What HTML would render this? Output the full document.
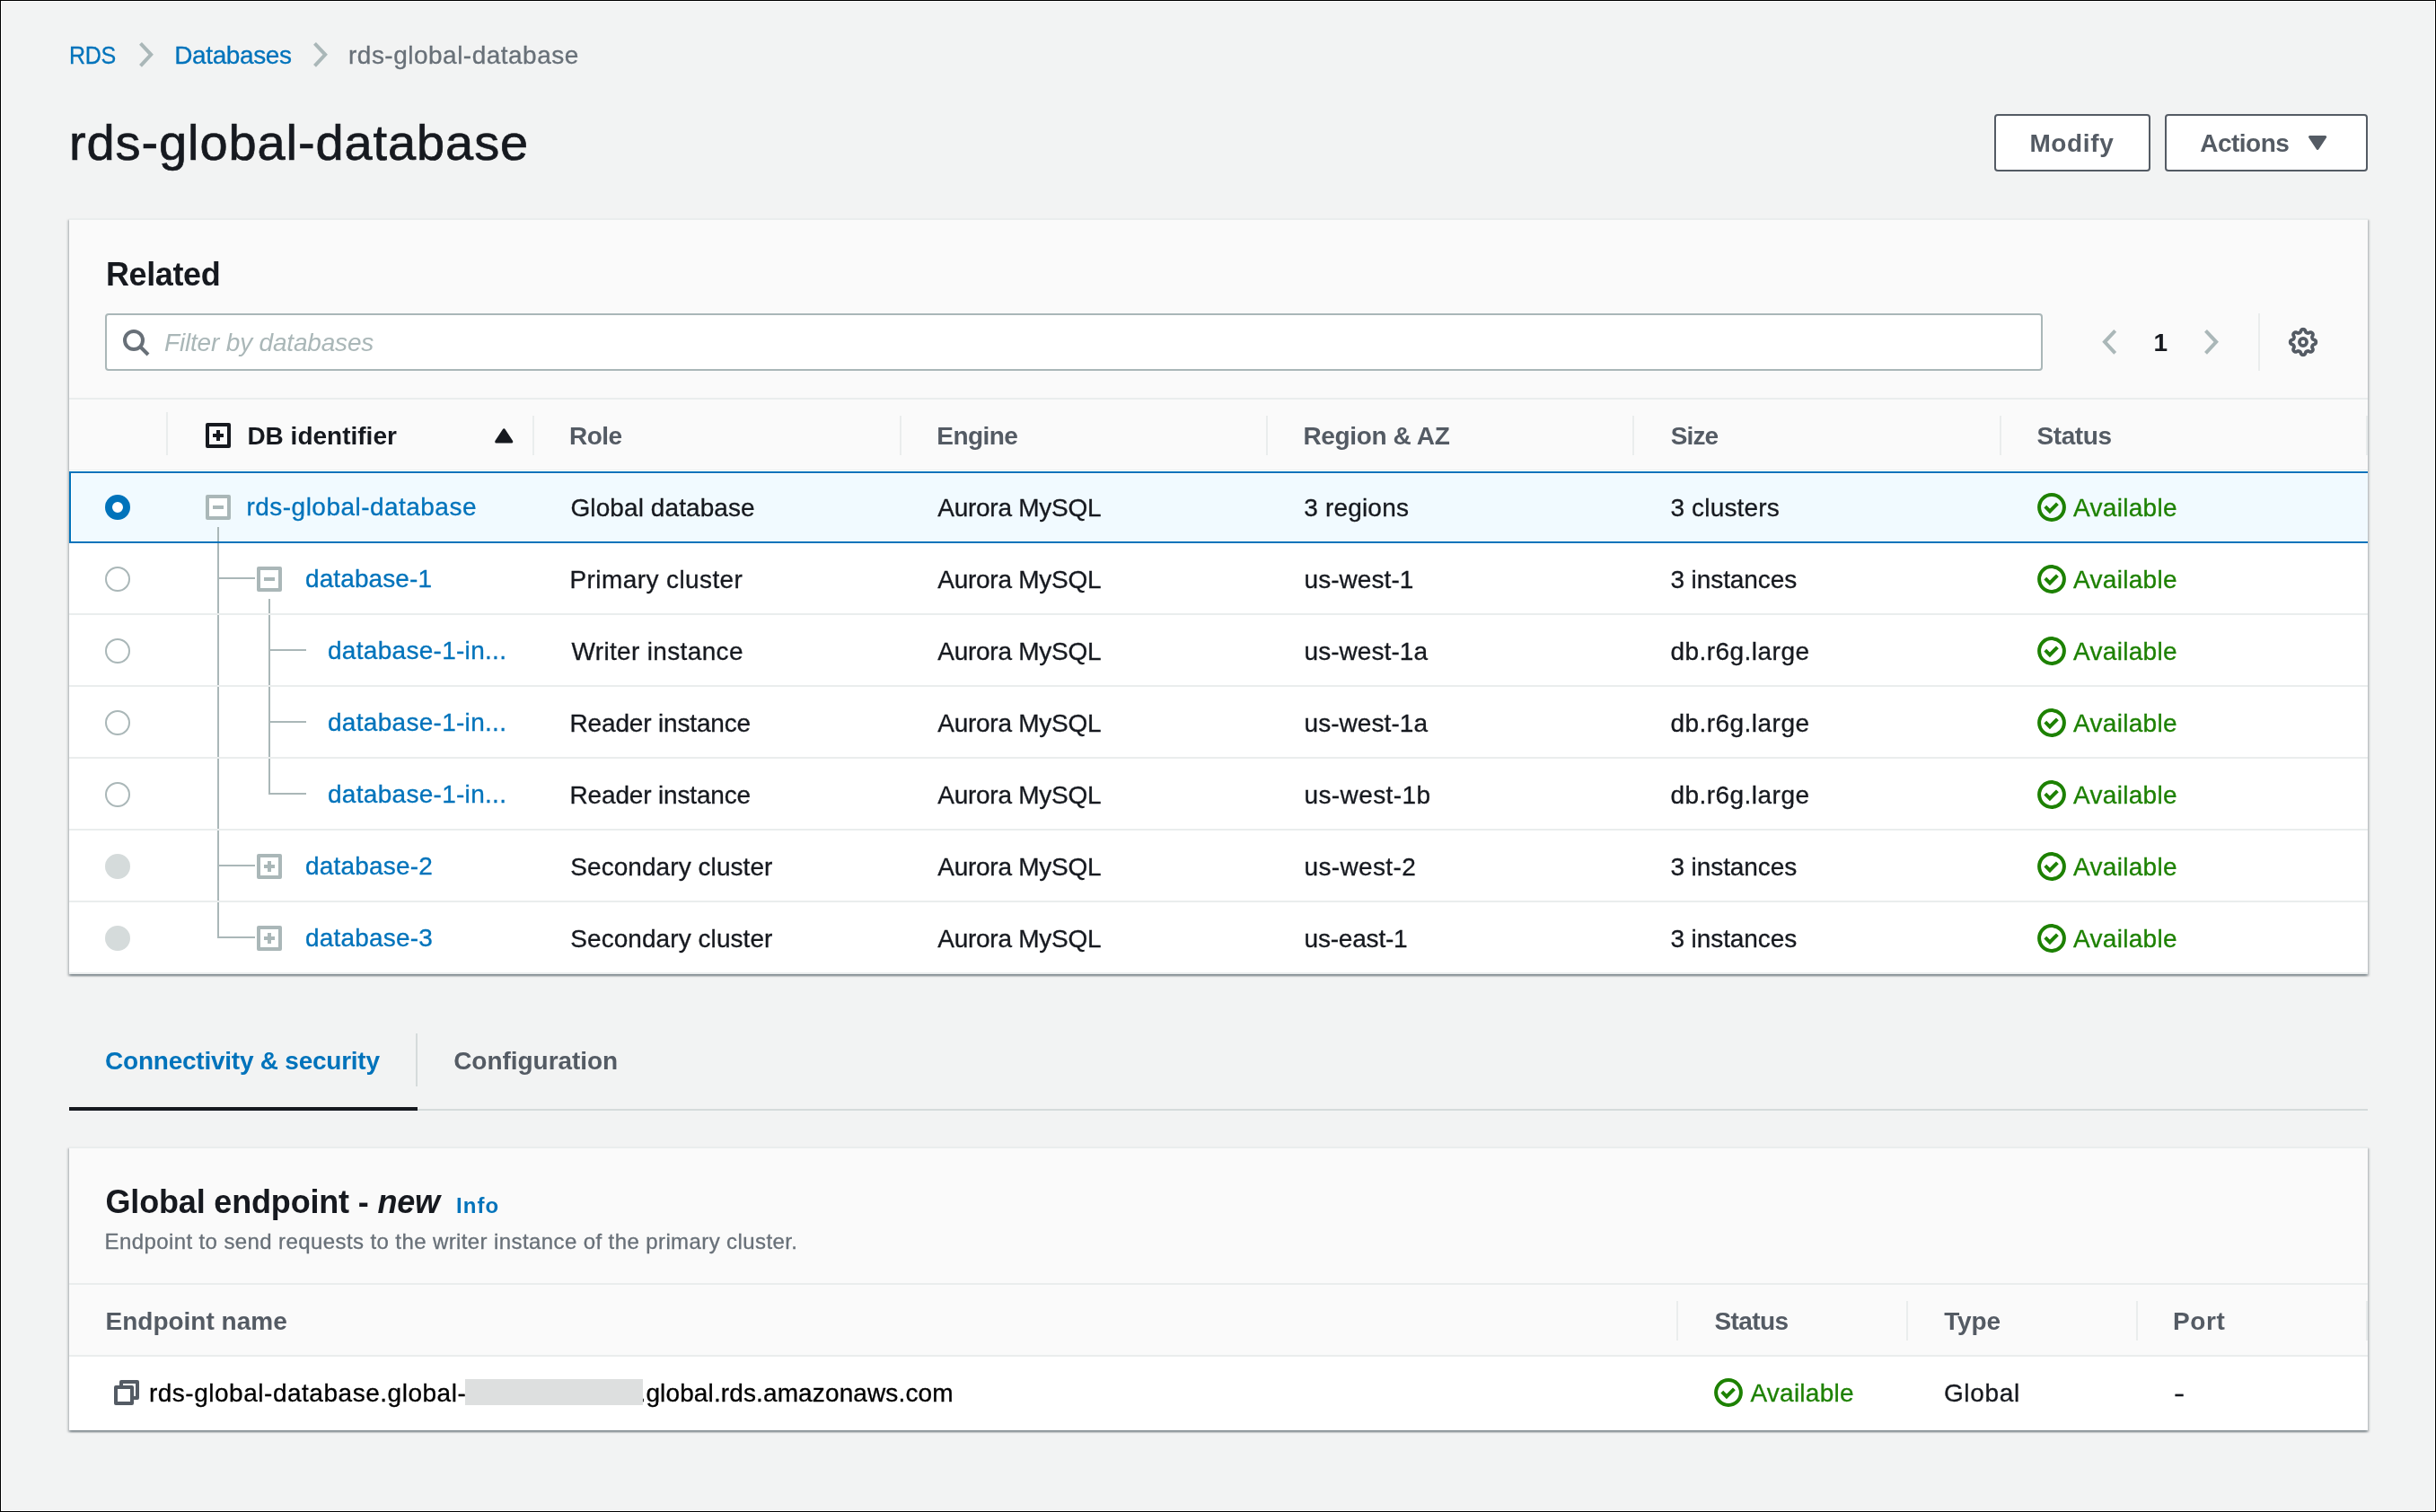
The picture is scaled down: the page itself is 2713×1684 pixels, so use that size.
<!DOCTYPE html>
<html lang="en">
<head>
<meta charset="utf-8">
<title>rds-global-database</title>
<style>
*{box-sizing:border-box;margin:0;padding:0}
html,body{width:2713px;height:1684px;overflow:hidden;background:#f2f3f3}
body{font-family:"Liberation Sans",Arial,sans-serif;font-size:28px;color:#16191f;position:relative}
#wrap{position:absolute;left:0;top:0;width:2713px;height:1684px;will-change:transform}
#frame{position:absolute;left:0;top:0;width:2713px;height:1684px;border:1px solid #000;box-shadow:inset 0 0 0 1px #fff;z-index:50;pointer-events:none}
.t{position:absolute;white-space:nowrap;line-height:40px;height:40px;-webkit-text-stroke:.3px currentColor}
.t.b{-webkit-text-stroke:0}
.a{color:#0073bb}
a{text-decoration:none;display:block}
h1,h2{font-weight:400}
h2.b{font-weight:700}
.g{color:#545b64}
.b{font-weight:700}
.panel{position:absolute;left:77px;width:2560px;background:#fff;border-top:2px solid #eaeded;box-shadow:0 2px 2px 0 rgba(0,28,36,.3),2px 2px 2px 0 rgba(0,28,36,.15),-2px 2px 2px 0 rgba(0,28,36,.15)}
.hdr{position:absolute;left:0;right:0;background:#fafafa}
.hl{position:absolute;left:0;right:0;height:2px;background:#eaeded}
.vd{position:absolute;width:2px;background:#eaeded}
.btn{position:absolute;height:64px;top:127px;border:2px solid #545b64;border-radius:4px;background:#fff;color:#545b64;font-weight:700}
.ln{position:absolute;background:#aab7b8}
.box{position:absolute;width:28px;height:28px;border:4px solid #aab7b8;border-radius:2px;background:#fff}
.box i{position:absolute;background:#aab7b8}
.box.dk{border-color:#16191f;background:transparent}
.box.dk i{background:#16191f}
.radio{position:absolute;width:28px;height:28px;border-radius:50%;border:2px solid #aab7b8;background:#fff}
.radio.dis{background:#d5dbdb;border-color:#d5dbdb}
.radio.sel{border:8px solid #0073bb}
.grn{color:#1d8102}
svg{position:absolute;overflow:visible}
</style>
</head>
<body>
<div id="frame"></div>
<div id="wrap">
<!-- breadcrumbs -->
<a href="#" class="t a" style="left:77.2px;top:42px;letter-spacing:-.4px;transform:scaleX(.895);transform-origin:0 0">RDS</a>
<svg style="left:155px;top:47.3px" width="17" height="28" viewBox="0 0 17 28"><path d="M1.5 1.4 L13.2 13.85 L1.5 26.3" fill="none" stroke="#aab7b8" stroke-width="4"/></svg>
<a href="#" class="t a" style="left:194.3px;top:42px;letter-spacing:-.4px">Databases</a>
<svg style="left:349px;top:47.3px" width="17" height="28" viewBox="0 0 17 28"><path d="M1.5 1.4 L13.2 13.85 L1.5 26.3" fill="none" stroke="#aab7b8" stroke-width="4"/></svg>
<div class="t" style="left:388px;top:42px;color:#687078;letter-spacing:.49px">rds-global-database</div>
<!-- title -->
<h1 class="t" style="left:77px;top:119px;font-size:56px;line-height:80px;height:80px;letter-spacing:.9px;-webkit-text-stroke:.7px currentColor">rds-global-database</h1>
<!-- buttons -->
<div class="btn" role="button" style="left:2221px;width:174px"><div class="t b" style="left:37.4px;top:11px;letter-spacing:.65px">Modify</div>
</div>
<div class="btn" role="button" style="left:2411px;width:226px"><div class="t b" style="left:37.2px;top:11px;letter-spacing:-.5px">Actions</div>
<svg style="left:157.7px;top:22px" width="21" height="16" viewBox="0 0 21 16"><path d="M1.5 1.5 H18.7 L10.1 14.5 Z" fill="#545b64" stroke="#545b64" stroke-width="3" stroke-linejoin="round"/></svg></div>
<!-- Related panel -->
<div class="panel" style="top:243px;height:842px">
<div class="hdr" style="top:0;height:278px;border-bottom:1px solid #eaeded;box-sizing:content-box"></div>
<h2 class="t b" style="left:41px;top:39px;font-size:36px;line-height:44px;height:44px;letter-spacing:-.4px">Related</h2>
<div style="position:absolute;left:40px;top:104px;width:2158px;height:64px;border:2px solid #aab7b8;border-radius:4px;background:#fff"><svg style="left:17px;top:15px" width="32" height="32" viewBox="0 0 32 32"><circle cx="13" cy="13" r="10" fill="none" stroke="#687078" stroke-width="4"/><path d="M20 20 L29 29" stroke="#687078" stroke-width="4" fill="none"/></svg><div class="t" style="left:64px;top:11px;font-style:italic;color:#aab7b8;letter-spacing:-.18px;-webkit-text-stroke:0">Filter by databases</div>
</div>
<svg style="left:2264px;top:122.10000000000002px" width="17" height="28" viewBox="0 0 17 28"><path d="M14.7 1.4 L3 13.85 L14.7 26.3" fill="none" stroke="#aab7b8" stroke-width="4"/></svg>
<div class="t b" style="left:2321.5px;top:117px;">1</div>
<svg style="left:2378px;top:122.10000000000002px" width="17" height="28" viewBox="0 0 17 28"><path d="M1.5 1.4 L13.2 13.85 L1.5 26.3" fill="none" stroke="#aab7b8" stroke-width="4"/></svg>
<div class="vd" style="left:2438px;top:104px;height:64px"></div>
<svg style="left:2470px;top:118px" width="36" height="36" viewBox="0 0 36 36"><path d="M18.00 3.75 L18.56 3.78 L19.11 3.90 L19.64 4.16 L20.11 4.70 L20.48 5.54 L20.79 6.40 L21.11 6.97 L21.48 7.30 L21.87 7.52 L22.27 7.70 L22.68 7.85 L23.11 7.97 L23.60 8.00 L24.23 7.83 L25.06 7.44 L25.92 7.10 L26.63 7.06 L27.19 7.24 L27.66 7.55 L28.08 7.92 L28.45 8.34 L28.76 8.81 L28.94 9.37 L28.90 10.08 L28.56 10.94 L28.17 11.77 L28.00 12.40 L28.03 12.89 L28.15 13.32 L28.30 13.73 L28.48 14.13 L28.70 14.52 L29.03 14.89 L29.60 15.21 L30.46 15.52 L31.30 15.89 L31.84 16.36 L32.10 16.89 L32.22 17.44 L32.25 18.00 L32.22 18.56 L32.10 19.11 L31.84 19.64 L31.30 20.11 L30.46 20.48 L29.60 20.79 L29.03 21.11 L28.70 21.48 L28.48 21.87 L28.30 22.27 L28.15 22.68 L28.03 23.11 L28.00 23.60 L28.17 24.23 L28.56 25.06 L28.90 25.92 L28.94 26.63 L28.76 27.19 L28.45 27.66 L28.08 28.08 L27.66 28.45 L27.19 28.76 L26.63 28.94 L25.92 28.90 L25.06 28.56 L24.23 28.17 L23.60 28.00 L23.11 28.03 L22.68 28.15 L22.27 28.30 L21.87 28.48 L21.48 28.70 L21.11 29.03 L20.79 29.60 L20.48 30.46 L20.11 31.30 L19.64 31.84 L19.11 32.10 L18.56 32.22 L18.00 32.25 L17.44 32.22 L16.89 32.10 L16.36 31.84 L15.89 31.30 L15.52 30.46 L15.21 29.60 L14.89 29.03 L14.52 28.70 L14.13 28.48 L13.73 28.30 L13.32 28.15 L12.89 28.03 L12.40 28.00 L11.77 28.17 L10.94 28.56 L10.08 28.90 L9.37 28.94 L8.81 28.76 L8.34 28.45 L7.92 28.08 L7.55 27.66 L7.24 27.19 L7.06 26.63 L7.10 25.92 L7.44 25.06 L7.83 24.23 L8.00 23.60 L7.97 23.11 L7.85 22.68 L7.70 22.27 L7.52 21.87 L7.30 21.48 L6.97 21.11 L6.40 20.79 L5.54 20.48 L4.70 20.11 L4.16 19.64 L3.90 19.11 L3.78 18.56 L3.75 18.00 L3.78 17.44 L3.90 16.89 L4.16 16.36 L4.70 15.89 L5.54 15.52 L6.40 15.21 L6.97 14.89 L7.30 14.52 L7.52 14.13 L7.70 13.73 L7.85 13.32 L7.97 12.89 L8.00 12.40 L7.83 11.77 L7.44 10.94 L7.10 10.08 L7.06 9.37 L7.24 8.81 L7.55 8.34 L7.92 7.92 L8.34 7.55 L8.81 7.24 L9.37 7.06 L10.08 7.10 L10.94 7.44 L11.77 7.83 L12.40 8.00 L12.89 7.97 L13.32 7.85 L13.73 7.70 L14.13 7.52 L14.52 7.30 L14.89 6.97 L15.21 6.40 L15.52 5.54 L15.89 4.70 L16.36 4.16 L16.89 3.90 L17.44 3.78 Z" fill="none" stroke="#545b64" stroke-width="3.8" stroke-linejoin="round"/><circle cx="18" cy="18" r="4.1" fill="none" stroke="#545b64" stroke-width="3.7"/></svg>
<div class="hl" style="top:198px"></div>
<div class="vd" style="left:108px;top:214px;height:48px"></div>
<div class="vd" style="left:516px;top:218px;height:44px"></div>
<div class="vd" style="left:925px;top:218px;height:44px"></div>
<div class="vd" style="left:1333px;top:218px;height:44px"></div>
<div class="vd" style="left:1741px;top:218px;height:44px"></div>
<div class="vd" style="left:2150px;top:218px;height:44px"></div>
<div class="vd" style="left:2558px;top:218px;height:44px"></div>
<div class="box dk" style="left:152px;top:226px"><i style="left:4px;top:8px;width:12px;height:4px"></i><i style="left:8px;top:4px;width:4px;height:12px"></i></div>
<div class="t b" style="left:198.39999999999998px;top:221px;">DB identifier</div>
<svg style="left:474px;top:231.7px" width="21" height="17" viewBox="0 0 21 17"><path d="M10.25 1.8 L18.8 14.9 H1.7 Z" fill="#16191f" stroke="#16191f" stroke-width="3" stroke-linejoin="round"/></svg>
<div class="t b g" style="left:557px;top:221px;letter-spacing:-0.5px;">Role</div>
<div class="t b g" style="left:966.3px;top:221px;letter-spacing:-0.58px;">Engine</div>
<div class="t b g" style="left:1374.4px;top:221px;letter-spacing:-0.35px;">Region &amp; AZ</div>
<div class="t b g" style="left:1783.8px;top:221px;letter-spacing:-0.9px;">Size</div>
<div class="t b g" style="left:2191.6px;top:221px;letter-spacing:-0.44px;">Status</div>
<div class="ln" style="left:165px;top:342px;width:2px;height:458px"></div>
<div class="ln" style="left:222px;top:422px;width:2px;height:218px"></div>
<div style="position:absolute;left:0;right:0;top:280px;height:80px;background:#f1faff;border:solid #0073bb;border-width:2px 0 2px 2px;box-shadow:inset 1px 0 0 #fff,inset 0 1px 0 #fff,inset 0 -1px 0 #fff"></div>
<div class="ln" style="left:165px;top:342px;width:2px;height:16px"></div>
<div class="radio sel" style="left:40px;top:306px"></div>
<div class="box" style="left:152px;top:306px"><i style="left:4px;top:8px;width:12px;height:4px"></i></div>
<a href="#" class="t a" style="left:197.5px;top:300px;letter-spacing:.47px">rds-global-database</a>
<div class="t" style="left:558.5px;top:301px;letter-spacing:0.09px;">Global database</div>
<div class="t" style="left:967.3px;top:301px;letter-spacing:-0.27px;">Aurora MySQL</div>
<div class="t" style="left:1375.2px;top:301px;letter-spacing:0.19px;">3 regions</div>
<div class="t" style="left:1783.4px;top:301px;letter-spacing:0.17px;">3 clusters</div>
<svg style="left:2191.6px;top:303.9px" width="32" height="32" viewBox="0 0 32 32"><circle cx="16" cy="16" r="13.9" fill="none" stroke="#1d8102" stroke-width="4"/><path d="M8.8 15.2 L13.9 20.3 L22.4 11.8" fill="none" stroke="#1d8102" stroke-width="4" stroke-linejoin="miter"/></svg>
<div class="t grn" style="left:2232.1px;top:301px;letter-spacing:0.28px;">Available</div>
<div class="hl" style="top:438px"></div>
<div class="radio " style="left:40px;top:386px"></div>
<div class="ln" style="left:167px;top:398px;width:40px;height:2px"></div>
<div class="box" style="left:209px;top:386px"><i style="left:4px;top:8px;width:12px;height:4px"></i></div>
<a href="#" class="t a" style="left:263px;top:380px;letter-spacing:.1px">database-1</a>
<div class="t" style="left:557.5px;top:381px;letter-spacing:0.41px;">Primary cluster</div>
<div class="t" style="left:967.3px;top:381px;letter-spacing:-0.27px;">Aurora MySQL</div>
<div class="t" style="left:1375.5px;top:381px;letter-spacing:0.06px;">us-west-1</div>
<div class="t" style="left:1783.4px;top:381px;letter-spacing:-0.08px;">3 instances</div>
<svg style="left:2191.6px;top:383.9px" width="32" height="32" viewBox="0 0 32 32"><circle cx="16" cy="16" r="13.9" fill="none" stroke="#1d8102" stroke-width="4"/><path d="M8.8 15.2 L13.9 20.3 L22.4 11.8" fill="none" stroke="#1d8102" stroke-width="4" stroke-linejoin="miter"/></svg>
<div class="t grn" style="left:2232.1px;top:381px;letter-spacing:0.28px;">Available</div>
<div class="hl" style="top:518px"></div>
<div class="radio " style="left:40px;top:466px"></div>
<div class="ln" style="left:224px;top:478px;width:40px;height:2px"></div>
<a href="#" class="t a" style="left:288px;top:460px;letter-spacing:.29px">database-1-in...</a>
<div class="t" style="left:559.5px;top:461px;letter-spacing:0.34px;">Writer instance</div>
<div class="t" style="left:967.3px;top:461px;letter-spacing:-0.27px;">Aurora MySQL</div>
<div class="t" style="left:1375.5px;top:461px;letter-spacing:0.06px;">us-west-1a</div>
<div class="t" style="left:1783.4px;top:461px;letter-spacing:0.47px;">db.r6g.large</div>
<svg style="left:2191.6px;top:463.9px" width="32" height="32" viewBox="0 0 32 32"><circle cx="16" cy="16" r="13.9" fill="none" stroke="#1d8102" stroke-width="4"/><path d="M8.8 15.2 L13.9 20.3 L22.4 11.8" fill="none" stroke="#1d8102" stroke-width="4" stroke-linejoin="miter"/></svg>
<div class="t grn" style="left:2232.1px;top:461px;letter-spacing:0.28px;">Available</div>
<div class="hl" style="top:598px"></div>
<div class="radio " style="left:40px;top:546px"></div>
<div class="ln" style="left:224px;top:558px;width:40px;height:2px"></div>
<a href="#" class="t a" style="left:288px;top:540px;letter-spacing:.29px">database-1-in...</a>
<div class="t" style="left:557.5px;top:541px;letter-spacing:-0.16px;">Reader instance</div>
<div class="t" style="left:967.3px;top:541px;letter-spacing:-0.27px;">Aurora MySQL</div>
<div class="t" style="left:1375.5px;top:541px;letter-spacing:0.06px;">us-west-1a</div>
<div class="t" style="left:1783.4px;top:541px;letter-spacing:0.47px;">db.r6g.large</div>
<svg style="left:2191.6px;top:543.9px" width="32" height="32" viewBox="0 0 32 32"><circle cx="16" cy="16" r="13.9" fill="none" stroke="#1d8102" stroke-width="4"/><path d="M8.8 15.2 L13.9 20.3 L22.4 11.8" fill="none" stroke="#1d8102" stroke-width="4" stroke-linejoin="miter"/></svg>
<div class="t grn" style="left:2232.1px;top:541px;letter-spacing:0.28px;">Available</div>
<div class="hl" style="top:678px"></div>
<div class="radio " style="left:40px;top:626px"></div>
<div class="ln" style="left:224px;top:638px;width:40px;height:2px"></div>
<a href="#" class="t a" style="left:288px;top:620px;letter-spacing:.29px">database-1-in...</a>
<div class="t" style="left:557.5px;top:621px;letter-spacing:-0.16px;">Reader instance</div>
<div class="t" style="left:967.3px;top:621px;letter-spacing:-0.27px;">Aurora MySQL</div>
<div class="t" style="left:1375.5px;top:621px;letter-spacing:0.39px;">us-west-1b</div>
<div class="t" style="left:1783.4px;top:621px;letter-spacing:0.47px;">db.r6g.large</div>
<svg style="left:2191.6px;top:623.9px" width="32" height="32" viewBox="0 0 32 32"><circle cx="16" cy="16" r="13.9" fill="none" stroke="#1d8102" stroke-width="4"/><path d="M8.8 15.2 L13.9 20.3 L22.4 11.8" fill="none" stroke="#1d8102" stroke-width="4" stroke-linejoin="miter"/></svg>
<div class="t grn" style="left:2232.1px;top:621px;letter-spacing:0.28px;">Available</div>
<div class="hl" style="top:758px"></div>
<div class="radio dis" style="left:40px;top:706px"></div>
<div class="ln" style="left:167px;top:718px;width:40px;height:2px"></div>
<div class="box" style="left:209px;top:706px"><i style="left:4px;top:8px;width:12px;height:4px"></i><i style="left:8px;top:4px;width:4px;height:12px"></i></div>
<a href="#" class="t a" style="left:263px;top:700px;letter-spacing:.19px">database-2</a>
<div class="t" style="left:558.3px;top:701px;letter-spacing:0.06px;">Secondary cluster</div>
<div class="t" style="left:967.3px;top:701px;letter-spacing:-0.27px;">Aurora MySQL</div>
<div class="t" style="left:1375.5px;top:701px;letter-spacing:0.36px;">us-west-2</div>
<div class="t" style="left:1783.4px;top:701px;letter-spacing:-0.08px;">3 instances</div>
<svg style="left:2191.6px;top:703.9px" width="32" height="32" viewBox="0 0 32 32"><circle cx="16" cy="16" r="13.9" fill="none" stroke="#1d8102" stroke-width="4"/><path d="M8.8 15.2 L13.9 20.3 L22.4 11.8" fill="none" stroke="#1d8102" stroke-width="4" stroke-linejoin="miter"/></svg>
<div class="t grn" style="left:2232.1px;top:701px;letter-spacing:0.28px;">Available</div>
<div class="hl" style="top:838px"></div>
<div class="radio dis" style="left:40px;top:786px"></div>
<div class="ln" style="left:167px;top:798px;width:40px;height:2px"></div>
<div class="box" style="left:209px;top:786px"><i style="left:4px;top:8px;width:12px;height:4px"></i><i style="left:8px;top:4px;width:4px;height:12px"></i></div>
<a href="#" class="t a" style="left:263px;top:780px;letter-spacing:.19px">database-3</a>
<div class="t" style="left:558.3px;top:781px;letter-spacing:0.06px;">Secondary cluster</div>
<div class="t" style="left:967.3px;top:781px;letter-spacing:-0.27px;">Aurora MySQL</div>
<div class="t" style="left:1375.5px;top:781px;letter-spacing:-0.19px;">us-east-1</div>
<div class="t" style="left:1783.4px;top:781px;letter-spacing:-0.08px;">3 instances</div>
<svg style="left:2191.6px;top:783.9000000000001px" width="32" height="32" viewBox="0 0 32 32"><circle cx="16" cy="16" r="13.9" fill="none" stroke="#1d8102" stroke-width="4"/><path d="M8.8 15.2 L13.9 20.3 L22.4 11.8" fill="none" stroke="#1d8102" stroke-width="4" stroke-linejoin="miter"/></svg>
<div class="t grn" style="left:2232.1px;top:781px;letter-spacing:0.28px;">Available</div>
</div>
<!-- tabs -->
<div style="position:absolute;left:77px;top:1235px;width:2560px;height:2px;background:#d5dbdb"></div>
<div style="position:absolute;left:77px;top:1233px;width:388px;height:4px;background:#16191f"></div>
<div style="position:absolute;left:463px;top:1151px;width:2px;height:59px;background:#d5dbdb"></div>
<a href="#" class="t a b" style="left:117.1px;top:1162px;letter-spacing:-.24px">Connectivity &amp; security</a>
<div class="t b g" style="left:505.2px;top:1162px;letter-spacing:-.04px">Configuration</div>
<!-- Global endpoint panel -->
<div class="panel" style="top:1277px;height:316px">
<div class="hdr" style="top:0;height:231px"></div>
<h2 class="t b" style="left:40.5px;top:38px;font-size:36px;line-height:44px;height:44px;letter-spacing:-.17px">Global endpoint - <i>new</i></h2>
<a href="#" class="t a b" style="left:431px;top:44px;font-size:24px;letter-spacing:1.1px">Info</a>
<div class="t" style="left:39.5px;top:84px;font-size:24px;color:#687078;letter-spacing:.4px">Endpoint to send requests to the writer instance of the primary cluster.</div>
<div class="hl" style="top:150px"></div>
<div class="vd" style="left:1790px;top:170px;height:44px"></div>
<div class="vd" style="left:2046px;top:170px;height:44px"></div>
<div class="vd" style="left:2302px;top:170px;height:44px"></div>
<div class="vd" style="left:2558px;top:170px;height:44px"></div>
<div class="t b g" style="left:40.5px;top:173px;">Endpoint name</div>
<div class="t b g" style="left:1832.4px;top:173px;letter-spacing:-.56px">Status</div>
<div class="t b g" style="left:2088.3px;top:173px;letter-spacing:-.2px">Type</div>
<div class="t b g" style="left:2343.1px;top:173px;letter-spacing:.6px">Port</div>
<div class="hl" style="top:230px"></div>
<svg style="left:50px;top:258px" width="28" height="28" viewBox="0 0 28 28"><rect x="8" y="2" width="18" height="18" fill="none" stroke="#545b64" stroke-width="4" stroke-linejoin="round"/><rect x="2" y="8" width="18" height="18" fill="#fff" stroke="#545b64" stroke-width="4" stroke-linejoin="round"/></svg>
<div class="t" style="left:88.9px;top:253px;letter-spacing:.52px;color:#000">rds-global-database.global-</div>
<div class="t" style="left:634.5px;top:253px;letter-spacing:.125px;color:#000">.global.rds.amazonaws.com</div>
<div style="position:absolute;left:441px;top:257px;width:198px;height:29px;background:#dddfdf"></div>
<svg style="left:1832.1px;top:255.70000000000005px" width="32" height="32" viewBox="0 0 32 32"><circle cx="16" cy="16" r="13.9" fill="none" stroke="#1d8102" stroke-width="4"/><path d="M8.8 15.2 L13.9 20.3 L22.4 11.8" fill="none" stroke="#1d8102" stroke-width="4" stroke-linejoin="miter"/></svg>
<div class="t grn" style="left:1872.4px;top:253px;letter-spacing:.25px">Available</div>
<div class="t" style="left:2087.9px;top:253px;letter-spacing:.7px">Global</div>
<div class="t" style="left:2344.1px;top:253px;transform:scaleX(1.3);transform-origin:0 0">-</div>
</div>
</div>
</body>
</html>
